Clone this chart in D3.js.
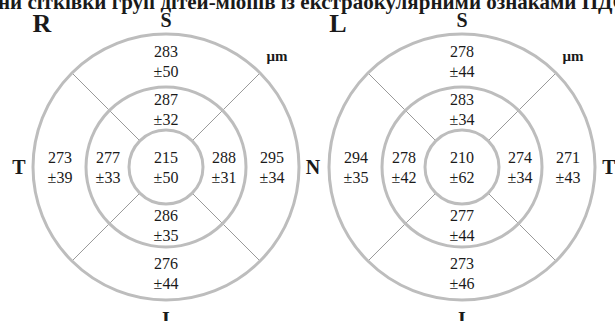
<!DOCTYPE html>
<html>
<head>
<meta charset="utf-8">
<script src="https://cdn.jsdelivr.net/npm/d3@7"></script>
<style>
  html, body { margin: 0; padding: 0; background: #fff; }
  svg { display: block; }
  text { font-family: "Liberation Serif", "Times New Roman", serif; fill: #1a1a1a; }
</style>
</head>
<body>
<svg id="chart" width="615" height="321"></svg>
<script>
// Eyes shown side by side
const eyes = ["R", "L"];

// Zone order: centre, inner top/right/bottom/left, outer top/right/bottom/left
const zoneRing = ["center", "inner", "inner", "inner", "inner", "outer", "outer", "outer", "outer"];
const zoneDir  = [null, "top", "right", "bottom", "left", "top", "right", "bottom", "left"];

// Mean retinal thickness (µm) and SD for each zone
const meanR = [215, 287, 288, 286, 277, 283, 295, 276, 273];
const sdR   = [50, 32, 31, 35, 33, 50, 34, 44, 39];
const meanL = [210, 283, 274, 277, 278, 278, 271, 273, 294];
const sdL   = [62, 34, 34, 44, 42, 44, 43, 46, 35];

// Quadrant labels around each map (top, right, bottom, left)
const sidesR = ["S", "N", "I", "T"];
const sidesL = ["S", "T", "I", "N"];

const title = "ни сітківки груп дітей-міопів із екстраокулярними ознаками ПДСТ";
const unit = "μm";

const svg = d3.select("#chart");

const cx = d3.scaleOrdinal().domain(eyes).range([166, 462]);
const cy = 167;
const ringR = d3.scaleOrdinal().domain(["center", "middle", "outer"]).range([37, 80, 133]);
const labelR = d3.scaleOrdinal().domain(["center", "inner", "outer"]).range([0, 58, 106]);
const dirAngle = d3.scaleOrdinal().domain(["top", "right", "bottom", "left"])
  .range([-Math.PI / 2, 0, Math.PI / 2, Math.PI]);
const sideR = d3.scaleOrdinal().domain(["top", "right", "bottom", "left"]).range([147, 147, 152, 147]);

// Heading line running off the top edge
svg.append("text")
  .attr("x", -2).attr("y", 9)
  .attr("font-size", 21).attr("font-weight", "bold")
  .text(title);

const eyeData = [
  { eye: "R", mean: meanR, sd: sdR, sides: sidesR },
  { eye: "L", mean: meanL, sd: sdL, sides: sidesL }
];

eyeData.forEach(d => {
  const g = svg.append("g").attr("transform", `translate(${cx(d.eye)},${cy})`);

  // Diagonal sector dividers between centre ring and outer ring
  [45, 135, 225, 315].forEach(deg => {
    const a = deg * Math.PI / 180;
    g.append("line")
      .attr("x1", ringR("center") * Math.cos(a)).attr("y1", ringR("center") * Math.sin(a))
      .attr("x2", ringR("outer") * Math.cos(a)).attr("y2", ringR("outer") * Math.sin(a))
      .attr("stroke", "#9a9a9a").attr("stroke-width", 1);
  });

  // Concentric rings
  ringR.domain().forEach(k => {
    g.append("circle").attr("r", ringR(k))
      .attr("fill", "none").attr("stroke", "#bdbdbd").attr("stroke-width", 3);
  });

  // Zone values: mean over ±SD
  d.mean.forEach((m, i) => {
    const r = labelR(zoneRing[i]);
    const a = zoneDir[i] ? dirAngle(zoneDir[i]) : 0;
    const x = r * Math.cos(a), y = r * Math.sin(a);
    const t = g.append("text").attr("text-anchor", "middle").attr("font-size", 16);
    t.append("tspan").attr("x", x).attr("y", y - 4.5).text(m);
    t.append("tspan").attr("x", x).attr("y", y + 15.5).text("±" + d.sd[i]);
  });

  // Quadrant letters (the shared nasal letter between the maps is drawn once)
  d.sides.forEach((s, i) => {
    const dir = dirAngle.domain()[i];
    if (d.eye === "L" && dir === "left") return;
    const a = dirAngle(dir), r = sideR(dir);
    g.append("text")
      .attr("x", r * Math.cos(a)).attr("y", r * Math.sin(a) + 6.5)
      .attr("text-anchor", "middle").attr("font-size", 20).attr("font-weight", "bold")
      .text(s);
  });

  // Eye letter
  g.append("text")
    .attr("x", -124).attr("y", 32 - cy)
    .attr("text-anchor", "middle").attr("font-size", 26).attr("font-weight", "bold")
    .text(d.eye);

  // Unit label
  g.append("text")
    .attr("x", 111).attr("y", 61 - cy)
    .attr("text-anchor", "middle").attr("font-size", 15).attr("font-weight", "bold")
    .text(unit);
});
</script>
</body>
</html>
